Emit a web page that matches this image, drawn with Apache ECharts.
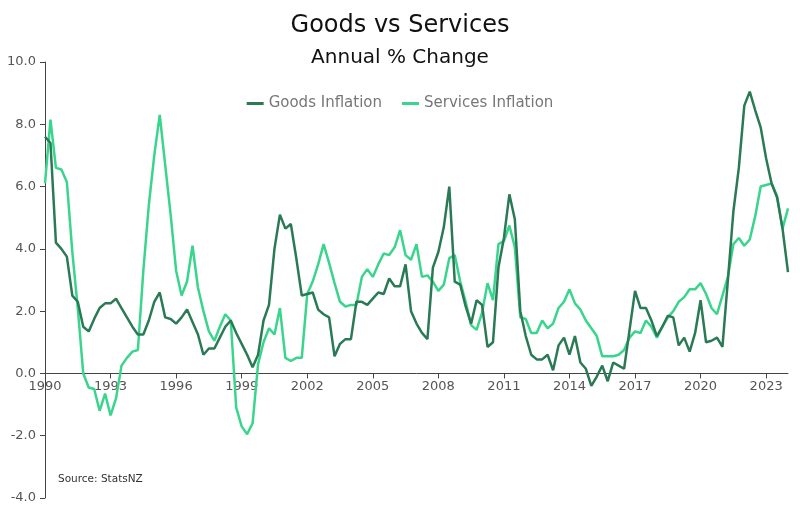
<!DOCTYPE html>
<html>
<head>
<meta charset="utf-8">
<script src="https://cdn.jsdelivr.net/npm/echarts@6/dist/echarts.min.js"></script>
<style>html,body{margin:0;padding:0;background:#fff}#c{width:800px;height:522px}</style>
</head>
<body>
<div id="c"></div>
<script>
var startYear = 1990;
var quarterCount = 137;
var categories = [];
for (var k = 0; k < quarterCount; k++) {
  categories.push(String(startYear + Math.floor(k / 4)) + (k % 4 === 0 ? '' : ' Q' + (k % 4 + 1)));
}
var yTicks = [-4, -2, 0, 2, 4, 6, 8, 10];

var goodsInflation = [
  7.6, 7.4, 4.2, 4.0, 3.75, 2.5, 2.3, 1.5, 1.35, 1.75,
  2.1, 2.25, 2.25, 2.4, 2.1, 1.8, 1.5, 1.25, 1.25, 1.7,
  2.3, 2.6, 1.8, 1.75, 1.6, 1.8, 2.05, 1.65, 1.25, 0.6,
  0.8, 0.8, 1.15, 1.5, 1.7, 1.3, 0.95, 0.6, 0.2, 0.6,
  1.7, 2.2, 4.0, 5.1, 4.65, 4.8, 3.7, 2.5, 2.55, 2.6,
  2.05, 1.9, 1.8, 0.55, 0.95, 1.1, 1.1, 2.3, 2.3, 2.2,
  2.4, 2.6, 2.55, 3.05, 2.8, 2.8, 3.5, 2.0, 1.6, 1.3,
  1.1, 3.4, 3.9, 4.7, 6.0, 2.95, 2.85, 2.15, 1.6, 2.35,
  2.2, 0.85, 1.0, 3.4, 4.35, 5.75, 4.95, 2.0, 1.2, 0.6,
  0.45, 0.45, 0.6, 0.1, 0.9, 1.15, 0.6, 1.2, 0.35, 0.15,
  -0.4, -0.1, 0.25, -0.25, 0.35, 0.25, 0.15, 1.4, 2.65, 2.1,
  2.1, 1.7, 1.2, 1.5, 1.85, 1.8, 0.9, 1.15, 0.7, 1.3,
  2.35, 1.0, 1.05, 1.15, 0.85, 3.0, 5.2, 6.6, 8.6, 9.05,
  8.45, 7.9, 6.9, 6.1, 5.65, 4.65, 3.25
];
var servicesInflation = [
  6.1, 8.15, 6.6, 6.55, 6.15, 3.9, 2.1, 0.0, -0.45, -0.5,
  -1.2, -0.65, -1.35, -0.8, 0.25, 0.5, 0.7, 0.75, 3.3, 5.4,
  7.0, 8.3, 6.7, 5.1, 3.3, 2.5, 2.95, 4.1, 2.75, 2.0,
  1.35, 1.05, 1.5, 1.9, 1.7, -1.1, -1.7, -1.95, -1.6, 0.3,
  1.0, 1.45, 1.25, 2.1, 0.5, 0.4, 0.5, 0.5, 2.55, 2.95,
  3.5, 4.15, 3.55, 2.9, 2.3, 2.15, 2.2, 2.2, 3.1, 3.35,
  3.1, 3.5, 3.85, 3.8, 4.05, 4.6, 3.8, 3.65, 4.15, 3.1,
  3.15, 2.95, 2.65, 2.85, 3.7, 3.8, 2.95, 2.3, 1.55, 1.4,
  1.95, 2.9, 2.35, 4.15, 4.25, 4.75, 4.05, 1.8, 1.75, 1.3,
  1.3, 1.7, 1.45, 1.6, 2.1, 2.3, 2.7, 2.25, 2.05, 1.7,
  1.45, 1.2, 0.55, 0.55, 0.55, 0.6, 0.75, 1.15, 1.35, 1.3,
  1.7, 1.5, 1.15, 1.5, 1.8, 2.0, 2.3, 2.45, 2.7, 2.7,
  2.9, 2.55, 2.1, 1.9, 2.5, 3.1, 4.15, 4.35, 4.1, 4.3,
  5.05, 6.0, 6.05, 6.1, 5.7, 4.65, 5.3
];

var FONT = '"DejaVu Sans", sans-serif';
var GRID_TOP = 62, GRID_BOTTOM = 24, CHART_H = 522;
var yMin = yTicks[0], yMax = yTicks[yTicks.length - 1];
var plotH = CHART_H - GRID_TOP - GRID_BOTTOM;
var zeroOffset = -plotH * (0 - yMin) / (yMax - yMin);

var chart = echarts.init(document.getElementById('c'), null, {renderer: 'canvas'});
chart.setOption({
  animation: false,
  backgroundColor: '#ffffff',
  title: [
    {text: 'Goods vs Services', left: 'center', top: 9,
     textStyle: {fontFamily: FONT, fontSize: 24, fontWeight: 'normal', color: '#111'}},
    {text: 'Annual % Change', left: 'center', top: 43,
     textStyle: {fontFamily: FONT, fontSize: 20, fontWeight: 'normal', color: '#111'}}
  ],
  legend: {
    top: 91, left: 'center', itemGap: 20, itemWidth: 17, itemHeight: 3,
    icon: 'rect',
    textStyle: {fontFamily: FONT, fontSize: 15, color: '#777'},
    data: ['Goods Inflation', 'Services Inflation']
  },
  grid: {left: 45, right: 12, top: GRID_TOP, bottom: GRID_BOTTOM},
  xAxis: {
    type: 'category', data: categories, boundaryGap: false,
    offset: zeroOffset,
    axisLine: {onZero: false, lineStyle: {color: '#444', width: 1}},
    axisTick: {show: true, interval: 11, length: 5, lineStyle: {color: '#444'}},
    axisLabel: {interval: 11, fontFamily: FONT, fontSize: 13, color: '#555', margin: 7,
      formatter: function (v) { return v.slice(0, 4); }},
    splitLine: {show: false}
  },
  yAxis: {
    type: 'value', min: yMin, max: yMax, interval: 2,
    axisLine: {show: true, lineStyle: {color: '#444', width: 1}},
    axisTick: {show: true, length: 5, lineStyle: {color: '#444'}},
    axisLabel: {fontFamily: FONT, fontSize: 13, color: '#555', margin: 9,
      formatter: function (v) { return v.toFixed(1); }},
    splitLine: {show: false}
  },
  graphic: [{
    type: 'text', left: 58, top: 474,
    style: {text: 'Source: StatsNZ', fontFamily: FONT, fontSize: 10.5, fill: '#333'}
  }],
  series: [
    {name: 'Goods Inflation', type: 'line', data: goodsInflation, showSymbol: false,
     lineStyle: {color: '#2a7a56', width: 2.5}, itemStyle: {color: '#2a7a56'}, z: 3},
    {name: 'Services Inflation', type: 'line', data: servicesInflation, showSymbol: false,
     lineStyle: {color: '#3ad58c', width: 2.5}, itemStyle: {color: '#3ad58c'}, z: 2}
  ]
});
</script>
</body>
</html>
